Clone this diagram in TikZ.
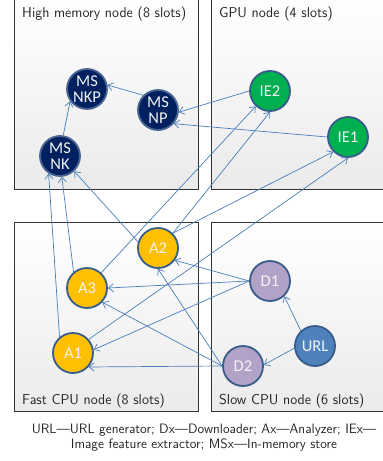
\documentclass[tikz,border=0pt]{standalone}
\usepackage{fontspec}
\usepackage{xcolor}
\newfontfamily\procfont{Carlito}
\usetikzlibrary{arrows.meta}

\definecolor{edgeblue}{HTML}{4A7EBB}
\definecolor{rimblue}{HTML}{385D8A}
\definecolor{msrim}{HTML}{4A6592}
\definecolor{msfill}{HTML}{002060}
\definecolor{iefill}{HTML}{00B050}
\definecolor{afill}{HTML}{FFC000}
\definecolor{dfill}{HTML}{B3A2C7}
\definecolor{urlfill}{HTML}{4F81BD}

\begin{document}
\begin{tikzpicture}[x=1pt, y=-1pt,
  proc/.style={circle, minimum size=40pt, inner sep=0pt, line width=1.8pt, draw=rimblue,
    text=white!95!black, align=center, font=\procfont\fontsize{16.5}{16}\selectfont},
  edge/.style={draw=edgeblue, line width=0.7pt, -{Straight Barb[length=5pt,width=8pt]}},
  slot/.style={draw=black!80, line width=0.9pt, top color=white, bottom color=black!8},
  title/.style={anchor=base west, inner sep=0pt, text=black!85, font=\sffamily\fontsize{14.3}{16}\selectfont}]
  \useasboundingbox (0,0) rectangle (383,461);

%boxes
  \path[slot] (14,-3) rectangle (198,189);
  \path[slot] (211,-3) rectangle (392,189);
  \path[slot] (14,222) rectangle (198,411);
  \path[slot] (211,222) rectangle (392,411);
  \node[title] (tHM) at (22,17) {High memory node (8 slots)};
  \node[title] (tGPU) at (219,17) {GPU node (4 slots)};
  \node[title] (tFast) at (22,404) {Fast CPU node (8 slots)};
  \node[title] (tSlow) at (219,404) {Slow CPU node (6 slots)};

%processes
  \node[proc, fill=msfill, draw=msrim] (MSNKP) at (87,89) {MS\\NKP};
  \node[proc, fill=msfill, draw=msrim] (MSNP) at (158,110) {MS\\NP};
  \node[proc, fill=msfill, draw=msrim] (MSNK) at (60,156) {MS\\NK};
  \node[proc, fill=iefill] (IE2) at (270,91) {IE2};
  \node[proc, fill=iefill] (IE1) at (348,137) {IE1};
  \node[proc, fill=afill] (A2) at (158,248) {A2};
  \node[proc, fill=afill] (A3) at (87,288) {A3};
  \node[proc, fill=afill] (A1) at (73,353) {A1};
  \node[proc, fill=dfill] (D1) at (270,281) {D1};
  \node[proc, fill=dfill] (D2) at (243,366) {D2};
  \node[proc, fill=urlfill] (URL) at (315,346) {URL};

%edges
  \foreach \from/\to in {MSNK.81/MSNKP.216, MSNP.135/MSNKP.11,
      IE2.180/MSNP.354, IE1.180/MSNP.319,
      A1.130/MSNK.237, A3.130/MSNK.275, A2.163/MSNK.313,
      A3.47/IE2.227, A2.45/IE2.270, A2.45/IE1.225, A1.41/IE1.270,
      D1.180/A2.324, D1.180/A3.0, D1.180/A1.9,
      D2.180/A1.318, D2.180/A3.317, D2.180/A2.270,
      URL.133/D1.313, URL.186/D2.3}
    \draw[edge] (\from) -- (\to);

%legend
  \node[align=center, inner sep=0pt, text=black!85, font=\sffamily\fontsize{13.6}{15}\selectfont]
    (legend) at (204,438) {URL---URL generator; Dx---Downloader; Ax---Analyzer; IEx---\\Image feature extractor; MSx---In-memory store};
\end{tikzpicture}
\end{document}
